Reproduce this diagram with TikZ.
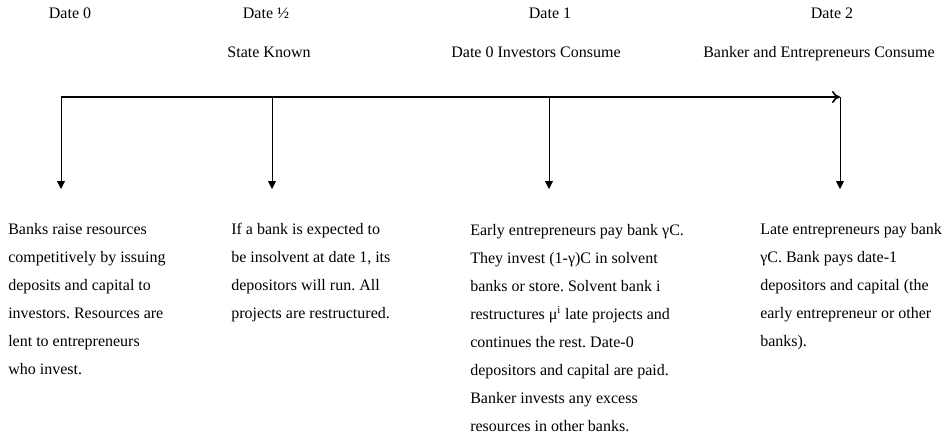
\documentclass[tikz,border=0pt]{standalone}
\usepackage{fontspec}
\setmainfont{Liberation Serif}
\usetikzlibrary{arrows.meta}
\frenchspacing
\begin{document}
\begin{tikzpicture}[x=0.75pt,y=-0.75pt,
  lbl/.style={font=\fontsize{12}{14}\selectfont, inner sep=0pt, anchor=base},
  blk/.style={font=\fontsize{12}{21}\selectfont\frenchspacing, inner sep=0pt, anchor=base west, align=left},
  axis/.style={line width=1.2pt, -{To[length=6pt,width=9pt,line width=1.2pt]}},
  drop/.style={line width=0.6pt, -{Triangle[length=6pt,width=6pt]}}]
\useasboundingbox (0,0) rectangle (951,440);
% top labels
\node[lbl] (d0) at (70,18.5) {Date 0};
\node[lbl] (dh) at (266,18.5) {Date ½};
\node[lbl] (d1) at (550,18.5) {Date 1};
\node[lbl] (d2) at (832,18.5) {Date 2};
\node[lbl] (s1) at (269,57) {State Known};
\node[lbl] (s2) at (536,57) {Date 0 Investors Consume};
\node[lbl] (s3) at (819,57) {Banker and Entrepreneurs Consume};
% timeline
\coordinate (a0) at (61,97);
\coordinate (ah) at (272,97);
\coordinate (a1) at (549,97);
\coordinate (a2) at (840,97);
\coordinate (b0) at (61,189);
\coordinate (bh) at (272,189);
\coordinate (b1) at (549,189);
\coordinate (b2) at (840,189);
\draw[axis] (a0) -- (a2);
\draw[drop] (a0) -- (b0);
\draw[drop] (ah) -- (bh);
\draw[drop] (a1) -- (b1);
\draw[drop] (a2) -- (b2);
% text blocks (anchored at the baseline of their last line)
\node[blk] (t0) at (8,374) {Banks raise resources\\competitively by issuing\\deposits and capital to\\investors. Resources are\\lent to entrepreneurs\\who invest.};
\node[blk] (th) at (231,318) {If a bank is expected to\\be insolvent at date 1, its\\depositors will run. All\\projects are restructured.};
\node[blk] (t1) at (470,431) {Early entrepreneurs pay bank γC.\\They invest (1-γ)C in solvent\\banks or store. Solvent bank i\\restructures μ\textsuperscript{i} late projects and\\continues the rest. Date-0\\depositors and capital are paid.\\Banker invests any excess\\resources in other banks.};
\node[blk] (t2) at (760,346) {Late entrepreneurs pay bank\\γC. Bank pays date-1\\depositors and capital (the\\early entrepreneur or other\\banks).};
\end{tikzpicture}
\end{document}
